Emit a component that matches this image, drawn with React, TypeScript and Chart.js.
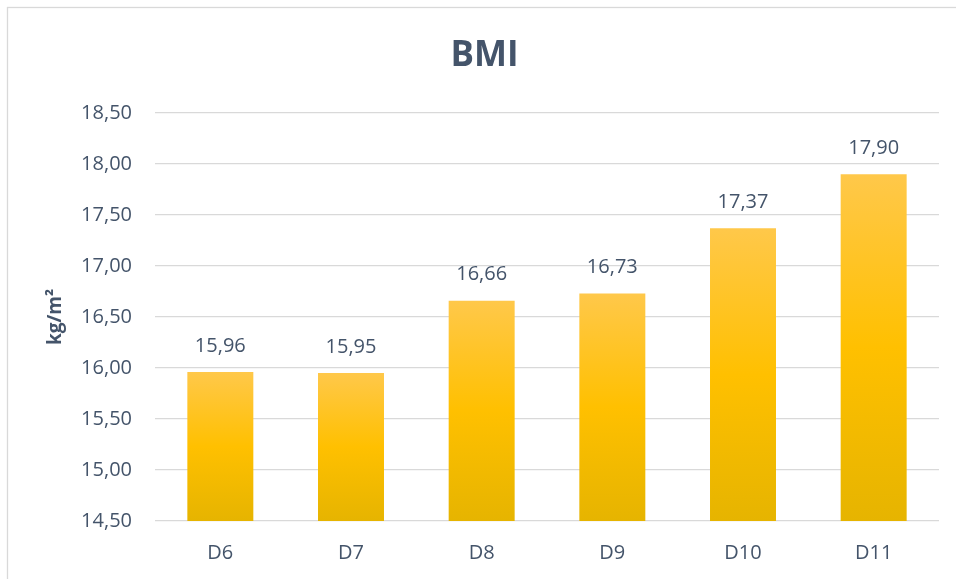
import React, { useEffect, useRef } from "react";
import { Chart, registerables } from "chart.js";

Chart.register(...registerables);

const categories = ["D6", "D7", "D8", "D9", "D10", "D11"];
const bmiValues = [15.96, 15.95, 16.66, 16.73, 17.37, 17.9];
const yMin = 14.5;
const yMax = 18.5;
const yStep = 0.5;
const chartTitle = "BMI";
const yAxisTitle = "kg/m²";

const TEXT = "#44546A";
const GRID = "#D9D9D9";
const FONT = "'Open Sans', 'Liberation Sans', sans-serif";

const fmt = (v: number) => v.toFixed(2).replace(".", ",");

const framePlugin = {
  id: "frame",
  beforeDraw(chart: any) {
    const ctx = chart.ctx;
    ctx.save();
    ctx.fillStyle = "#FFFFFF";
    ctx.fillRect(0, 0, chart.width, chart.height);
    ctx.strokeStyle = GRID;
    ctx.lineWidth = 1.3;
    ctx.strokeRect(7.5, 7.5, chart.width + 20, chart.height + 20);
    ctx.restore();
  },
};

const labelPlugin = {
  id: "barLabels",
  afterDatasetsDraw(chart: any) {
    const ctx = chart.ctx;
    const meta = chart.getDatasetMeta(0);
    ctx.save();
    ctx.font = `20px ${FONT}`;
    ctx.fillStyle = TEXT;
    ctx.textAlign = "center";
    ctx.textBaseline = "middle";
    meta.data.forEach((bar: any, i: number) => {
      ctx.fillText(fmt(bmiValues[i]), bar.x, bar.y - 26);
    });
    ctx.restore();
  },
};

export default function App() {
  const ref = useRef<HTMLCanvasElement>(null);
  useEffect(() => {
    if (!ref.current) return;
    const chart = new Chart(ref.current, {
      type: "bar",
      data: {
        labels: categories,
        datasets: [
          {
            data: bmiValues,
            backgroundColor: (ctx: any) => {
              const c = ctx.chart;
              const ys = c.scales?.y;
              if (!c.chartArea || !ys || ctx.raw == null) return "#FFC000";
              const top = ys.getPixelForValue(ctx.raw);
              const bottom = ys.getPixelForValue(yMin);
              if (!isFinite(top) || !isFinite(bottom) || top === bottom) return "#FFC000";
              const g = c.ctx.createLinearGradient(0, top, 0, bottom);
              g.addColorStop(0, "#FFC84A");
              g.addColorStop(0.5, "#FFC000");
              g.addColorStop(1, "#E6B400");
              return g;
            },
            borderWidth: 0,
            barPercentage: 0.505,
            categoryPercentage: 1,
          },
        ],
      },
      options: {
        responsive: false,
        animation: false,
        layout: { padding: { left: 30, right: 17, top: 0, bottom: 0 } },
        plugins: {
          legend: { display: false },
          tooltip: { enabled: false },
          title: {
            display: true,
            text: chartTitle,
            color: TEXT,
            font: { family: FONT, size: 35, weight: "bold" },
            padding: { top: 35, bottom: 36 },
          },
        },
        scales: {
          x: {
            grid: { display: false, drawTicks: false },
            border: { display: false },
            ticks: { color: TEXT, font: { family: FONT, size: 20 }, padding: 20 },
            afterFit: (s: any) => {
              s.height = 58;
            },
          },
          y: {
            min: yMin,
            max: yMax,
            grid: { color: GRID, lineWidth: 1.3, drawTicks: false },
            border: { display: false },
            ticks: {
              stepSize: yStep,
              color: TEXT,
              font: { family: FONT, size: 20 },
              padding: 23,
              callback: (v: any) => fmt(Number(v)),
            },
            title: {
              display: true,
              text: yAxisTitle,
              color: TEXT,
              font: { family: FONT, size: 19, weight: "bold" },
              padding: { top: 14, bottom: 0 },
            },
            afterFit: (s: any) => {
              s.width = 125;
            },
          },
        },
      },
      plugins: [framePlugin, labelPlugin],
    });
    return () => chart.destroy();
  }, []);
  return (
    <div style={{ position: "fixed", left: 0, top: 0, width: 956, height: 579 }}>
      <canvas ref={ref} width={956} height={579} style={{ display: "block" }} />
    </div>
  );
}
